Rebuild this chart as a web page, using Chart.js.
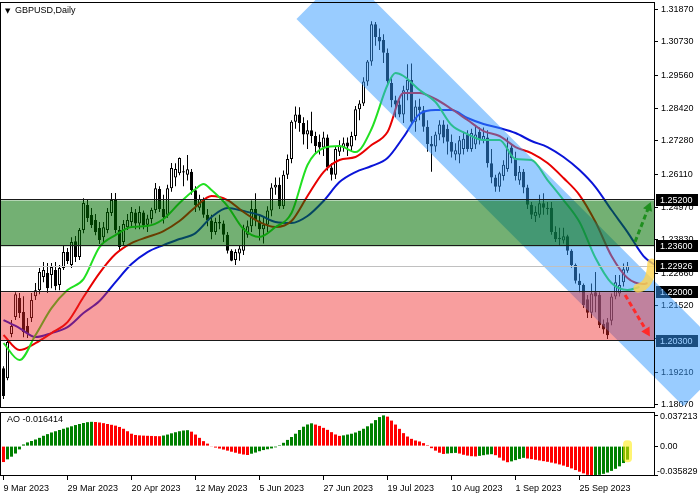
<!DOCTYPE html>
<html>
<head>
<meta charset="utf-8">
<title>GBPUSD Daily</title>
<script src="https://cdn.jsdelivr.net/npm/chart.js@4.4.1/dist/chart.umd.min.js"></script>
<style>
  html, body { margin: 0; padding: 0; background: #fff; }
  #wrap { position: relative; width: 700px; height: 500px; overflow: hidden; }
  #main { position: absolute; left: 0; top: 0; }
  #ao { position: absolute; left: 0; top: 410px; }
</style>
</head>
<body>
<div id="wrap">
  <canvas id="main" width="700" height="410"></canvas>
  <canvas id="ao" width="700" height="90"></canvas>
</div>
<script>
// x axis date labels, one every 16 bars
const dateLabels = ['9 Mar 2023', '29 Mar 2023', '20 Apr 2023', '12 May 2023', '5 Jun 2023',
  '27 Jun 2023', '19 Jul 2023', '10 Aug 2023', '1 Sep 2023', '25 Sep 2023'];
const labelBars = [0, 16, 32, 48, 64, 80, 96, 112, 128, 144];

const priceTicks = [1.31870, 1.30730, 1.29560, 1.28420, 1.27280, 1.26110, 1.24970,
  1.23830, 1.22660, 1.21520, 1.20380, 1.19210, 1.18070];
const aoTicks = [0.037213, 0, -0.035829];
const aoTickText = ['0.037213', '0.00', '-0.035829'];

// daily candles (bar 0 .. 156)
const opens = [
  1.1935,1.1900,1.2054,1.2113,1.2180,1.2131,1.2082,1.2110,1.2186,1.2207,
  1.2253,1.2267,1.2260,1.2277,1.2225,1.2284,1.2340,1.2295,1.2378,1.2323,
  1.2417,1.2504,1.2469,1.2452,1.2424,1.2392,1.2417,1.2476,1.2522,1.2417,
  1.2375,1.2427,1.2445,1.2478,1.2440,1.2478,1.2435,1.2455,1.2487,1.2560,
  1.2490,1.2470,1.2563,1.2600,1.2615,1.2618,1.2610,1.2620,1.2556,1.2495,
  1.2525,1.2470,1.2450,1.2410,1.2445,1.2440,1.2400,1.2345,1.2312,1.2335,
  1.2345,1.2400,1.2430,1.2490,1.2450,1.2420,1.2435,1.2485,1.2565,1.2575,
  1.2500,1.2610,1.2665,1.2795,1.2820,1.2790,1.2750,1.2765,1.2745,1.2725,
  1.2705,1.2740,1.2635,1.2610,1.2690,1.2705,1.2722,1.2708,1.2745,1.2838,
  1.2858,1.2935,1.3005,1.3135,1.3090,1.3080,1.3035,1.2930,1.2870,1.2855,
  1.2820,1.2905,1.2940,1.2795,1.2848,1.2835,1.2777,1.2717,1.2708,1.2750,
  1.2785,1.2770,1.2725,1.2680,1.2680,1.2700,1.2750,1.2700,1.2715,1.2760,
  1.2730,1.2740,1.2650,1.2600,1.2568,1.2605,1.2630,1.2705,1.2668,1.2590,
  1.2620,1.2565,1.2505,1.2465,1.2470,1.2510,1.2495,1.2495,1.2410,1.2385,
  1.2380,1.2395,1.2345,1.2295,1.2240,1.2225,1.2175,1.2128,1.2200,1.2190,
  1.2090,1.2095,1.2100,1.2185,1.2195,1.2235,1.2275
];
const highs = [
  1.1942,1.2036,1.2103,1.2200,1.2197,1.2186,1.2110,1.2197,1.2232,1.2284,
  1.2305,1.2302,1.2302,1.2305,1.2295,1.2365,1.2354,1.2392,1.2396,1.2424,
  1.2528,1.2522,1.2494,1.2473,1.2445,1.2445,1.2494,1.2546,1.2546,1.2431,
  1.2452,1.2473,1.2497,1.2490,1.2500,1.2485,1.2470,1.2495,1.2581,1.2570,
  1.2540,1.2575,1.2651,1.2650,1.2670,1.2643,1.2679,1.2630,1.2570,1.2540,
  1.2530,1.2490,1.2470,1.2460,1.2470,1.2450,1.2410,1.2350,1.2350,1.2365,
  1.2435,1.2450,1.2520,1.2545,1.2470,1.2465,1.2500,1.2580,1.2600,1.2600,
  1.2625,1.2680,1.2800,1.2848,1.2845,1.2810,1.2800,1.2830,1.2760,1.2750,
  1.2760,1.2750,1.2650,1.2710,1.2730,1.2740,1.2740,1.2760,1.2850,1.2870,
  1.2950,1.3010,1.3145,1.3143,1.3120,1.3100,1.3050,1.2950,1.2885,1.2870,
  1.2920,1.2995,1.2998,1.2870,1.2875,1.2850,1.2800,1.2745,1.2760,1.2800,
  1.2800,1.2785,1.2750,1.2720,1.2745,1.2760,1.2765,1.2770,1.2780,1.2775,
  1.2775,1.2765,1.2700,1.2610,1.2620,1.2660,1.2740,1.2715,1.2690,1.2640,
  1.2630,1.2575,1.2515,1.2500,1.2540,1.2545,1.2515,1.2515,1.2430,1.2425,
  1.2425,1.2400,1.2350,1.2300,1.2265,1.2230,1.2190,1.2230,1.2270,1.2200,
  1.2105,1.2110,1.2195,1.2260,1.2260,1.2300,1.2305
];
const lows = [
  1.1827,1.1893,1.2043,1.2103,1.2110,1.2043,1.2040,1.2096,1.2173,1.2193,
  1.2235,1.2197,1.2214,1.2207,1.2207,1.2277,1.2298,1.2284,1.2305,1.2312,
  1.2406,1.2445,1.2424,1.2399,1.2368,1.2375,1.2406,1.2466,1.2406,1.2347,
  1.2361,1.2417,1.2431,1.2420,1.2420,1.2420,1.2410,1.2440,1.2475,1.2480,
  1.2440,1.2460,1.2550,1.2570,1.2608,1.2570,1.2590,1.2540,1.2480,1.2485,
  1.2460,1.2430,1.2385,1.2400,1.2420,1.2375,1.2335,1.2308,1.2295,1.2310,
  1.2330,1.2390,1.2410,1.2430,1.2380,1.2370,1.2410,1.2465,1.2540,1.2490,
  1.2490,1.2595,1.2650,1.2770,1.2760,1.2715,1.2700,1.2720,1.2685,1.2680,
  1.2675,1.2625,1.2590,1.2595,1.2675,1.2690,1.2675,1.2690,1.2730,1.2800,
  1.2850,1.2920,1.2990,1.3060,1.3045,1.3000,1.2920,1.2845,1.2810,1.2810,
  1.2790,1.2870,1.2785,1.2760,1.2800,1.2760,1.2690,1.2620,1.2690,1.2730,
  1.2720,1.2680,1.2670,1.2660,1.2650,1.2680,1.2690,1.2690,1.2700,1.2715,
  1.2720,1.2635,1.2580,1.2550,1.2550,1.2590,1.2620,1.2650,1.2590,1.2575,
  1.2545,1.2490,1.2455,1.2445,1.2460,1.2470,1.2470,1.2400,1.2375,1.2365,
  1.2370,1.2330,1.2285,1.2230,1.2200,1.2145,1.2110,1.2110,1.2130,1.2075,
  1.2055,1.2037,1.2085,1.2175,1.2185,1.2220,1.2268
];
const closes = [
  1.1838,1.2026,1.2082,1.2193,1.2127,1.2061,1.2054,1.2173,1.2207,1.2270,
  1.2277,1.2214,1.2288,1.2221,1.2284,1.2340,1.2309,1.2375,1.2323,1.2417,
  1.2511,1.2459,1.2434,1.2410,1.2382,1.2427,1.2480,1.2522,1.2417,1.2358,
  1.2438,1.2452,1.2480,1.2440,1.2480,1.2433,1.2457,1.2487,1.2563,1.2490,
  1.2462,1.2563,1.2633,1.2630,1.2668,1.2622,1.2629,1.2556,1.2504,1.2525,
  1.2470,1.2450,1.2410,1.2445,1.2440,1.2400,1.2345,1.2310,1.2340,1.2352,
  1.2425,1.2430,1.2490,1.2450,1.2420,1.2435,1.2485,1.2565,1.2575,1.2500,
  1.2610,1.2665,1.2795,1.2820,1.2790,1.2750,1.2765,1.2745,1.2710,1.2705,
  1.2740,1.2635,1.2610,1.2700,1.2710,1.2720,1.2708,1.2745,1.2838,1.2858,
  1.2935,1.3005,1.3135,1.3090,1.3075,1.3035,1.2936,1.2870,1.2855,1.2820,
  1.2905,1.2940,1.2795,1.2848,1.2835,1.2777,1.2717,1.2708,1.2750,1.2785,
  1.2740,1.2725,1.2690,1.2695,1.2730,1.2735,1.2700,1.2755,1.2750,1.2730,
  1.2745,1.2650,1.2600,1.2568,1.2615,1.2645,1.2700,1.2668,1.2605,1.2620,
  1.2565,1.2505,1.2470,1.2480,1.2510,1.2495,1.2490,1.2410,1.2385,1.2390,
  1.2395,1.2345,1.2295,1.2240,1.2225,1.2155,1.2128,1.2195,1.2185,1.2085,
  1.2070,1.2050,1.2185,1.2235,1.2225,1.2280,1.22926
];

// Alligator lines (bar index, price)
const lipsBars = [0,4,8,12,16,20,24,28,32,36,40,44,48,50,52,56,60,64,68,72,76,80,84,88,92,96,98,
  100,104,108,112,116,120,124,128,132,136,140,144,148,152,156,159];
const lipsVals = [1.20224,1.19631,1.20503,1.21446,1.22074,1.22458,1.23575,1.23993,1.24273,1.24308,
  1.24552,1.25110,1.25599,1.25773,1.25564,1.25006,1.24203,1.23924,1.24273,1.24761,1.26436,1.27030,
  1.27100,1.26890,1.27693,1.29228,1.29647,1.29543,1.29054,1.28635,1.27832,1.27518,1.27309,1.27309,
  1.26646,1.26611,1.25913,1.25215,1.24447,1.23191,1.22318,1.22074,1.22179];
const teethBars = [0,4,8,12,16,20,24,28,32,36,40,44,48,52,56,60,64,68,72,76,80,84,88,92,96,
  100,104,108,112,116,120,124,128,132,136,140,144,148,152,156,160,161];
const teethVals = [1.20503,1.19980,1.20224,1.20573,1.20957,1.21830,1.22667,1.23330,1.23714,1.23924,
  1.24133,1.24482,1.24971,1.25355,1.25215,1.24796,1.24447,1.24273,1.24482,1.25355,
  1.26192,1.26611,1.26716,1.27134,1.27588,1.28949,1.28949,1.28740,1.28391,1.28007,
  1.27623,1.27449,1.27065,1.26855,1.26506,1.25983,1.25389,1.24447,1.23261,1.22493,
  1.22283,1.22318];
const jawBars = [0,4,8,12,16,20,24,28,32,36,40,44,48,52,56,60,64,68,72,76,80,84,88,92,96,
  100,104,108,112,116,120,124,128,132,136,140,144,148,152,156,160,164];
const jawVals = [1.21027,1.20748,1.20434,1.20573,1.20783,1.21271,1.21690,1.22353,1.22981,1.23400,
  1.23644,1.23854,1.24063,1.24622,1.24936,1.24831,1.24691,1.24447,1.24412,1.24657,
  1.25180,1.25843,1.26192,1.26402,1.26681,1.27414,1.28216,1.28356,1.28356,1.28077,
  1.27867,1.27728,1.27553,1.27274,1.27065,1.26716,1.26262,1.25669,1.24866,1.24098,
  1.23261,1.22842];

// Awesome Oscillator
const aoValues = [
  -0.0193,-0.0160,-0.0128,-0.0090,-0.0040,0.0020,0.0045,0.0062,0.0080,0.0100,
  0.0125,0.0145,0.0165,0.0180,0.0195,0.0210,0.0225,0.0240,0.0255,0.0268,
  0.0280,0.0290,0.0294,0.0292,0.0286,0.0278,0.0268,0.0258,0.0248,0.0232,
  0.0210,0.0180,0.0150,0.0135,0.0130,0.0127,0.0125,0.0123,0.0121,0.0120,
  0.0128,0.0140,0.0155,0.0168,0.0180,0.0189,0.0193,0.0175,0.0140,0.0100,
  0.0060,0.0030,-0.0008,-0.0018,-0.0030,-0.0042,-0.0055,-0.0068,-0.0080,-0.0092,
  -0.0102,-0.0108,-0.0092,-0.0078,-0.0062,-0.0048,-0.0038,-0.0028,-0.0015,0.0012,
  0.0040,0.0075,0.0110,0.0150,0.0195,0.0235,0.0262,0.0276,0.0261,0.0245,
  0.0221,0.0197,0.0169,0.0141,0.0124,0.0130,0.0140,0.0150,0.0165,0.0185,
  0.0210,0.0240,0.0275,0.0315,0.0352,0.037213,0.0357,0.0309,0.0261,0.0209,
  0.0157,0.0116,0.0088,0.0068,0.0056,0.0036,0.0012,-0.0025,-0.0055,-0.0080,
  -0.0095,-0.0090,-0.0085,-0.0082,-0.0090,-0.0105,-0.0115,-0.0122,-0.0125,-0.0118,
  -0.0110,-0.0102,-0.0098,-0.0110,-0.0140,-0.0175,-0.0195,-0.0185,-0.0170,-0.0155,
  -0.0142,-0.0150,-0.0158,-0.0166,-0.0174,-0.0182,-0.0190,-0.0200,-0.0210,-0.0222,
  -0.0236,-0.0252,-0.0270,-0.0290,-0.0310,-0.0330,-0.0348,-0.035829,-0.0355,-0.0348,
  -0.0336,-0.0320,-0.0300,-0.0275,-0.0245,-0.0205,-0.016414
];

// drawn objects: levels, channel, arrows
const greenBand = [1.2360, 1.2520];
const redBand = [1.2030, 1.2200];
const priceBoxes = [1.25200, 1.23600, 1.22926, 1.22000, 1.20300];
const lastPrice = 1.22926;
const channelBars = [100, 160];
const channelTop = [1.3115, 1.2277];
const channelWidth = 0.0335;
const channelSpan = [73.25, 170];
const upArrow = [[157.9, 1.2376], [161.8, 1.2515]];
const downArrow = [[155.4, 1.2190], [161.6, 1.2045]];
const yellowCurve = [[158.6, 1.2214], [161.8, 1.2222], [162.1, 1.2302]];

const X_MIN = -0.875, X_MAX = 162.625;
const FONT = { family: '"Liberation Sans", Arial, sans-serif', size: 9 };
const FONT_CSS = '9px "Liberation Sans", Arial, sans-serif';
const CHANNEL_FILL = 'rgba(51,153,255,0.5)';
const GREEN_FILL = 'rgba(0,112,0,0.55)';
const RED_FILL = 'rgba(240,40,40,0.45)';

const pts = (bars, vals) => bars.map((b, i) => ({ x: b, y: vals[i] }));

function channelPath(ctx, x, y) {
  const x1 = x.getPixelForValue(channelBars[0]), y1 = y.getPixelForValue(channelTop[0]);
  const x2 = x.getPixelForValue(channelBars[1]), y2 = y.getPixelForValue(channelTop[1]);
  const len = Math.hypot(x2 - x1, y2 - y1);
  const dx = (x2 - x1) / len, dy = (y2 - y1) / len;
  const slope = (y2 - y1) / (x2 - x1);
  const off = y.getPixelForValue(channelTop[0] - channelWidth) - y1;
  const lowerAt = xp => y1 + slope * (xp - x1) + off;
  const xa = x.getPixelForValue(channelSpan[0]), xb = x.getPixelForValue(channelSpan[1]);
  const t = off * dx, nx = dy * t, ny = -dx * t;
  const ya = lowerAt(xa), yb = lowerAt(xb);
  ctx.beginPath();
  ctx.moveTo(xa, ya);
  ctx.lineTo(xa + nx, ya + ny);
  ctx.lineTo(xb + nx, yb + ny);
  ctx.lineTo(xb, yb);
  ctx.closePath();
}

function dashedArrow(ctx, x, y, seg, color) {
  const x0 = x.getPixelForValue(seg[0][0]), y0 = y.getPixelForValue(seg[0][1]);
  const x1 = x.getPixelForValue(seg[1][0]), y1 = y.getPixelForValue(seg[1][1]);
  const ang = Math.atan2(y1 - y0, x1 - x0);
  const head = 10;
  ctx.save();
  ctx.strokeStyle = color;
  ctx.fillStyle = color;
  ctx.lineWidth = 3;
  ctx.setLineDash([5, 3]);
  ctx.beginPath();
  ctx.moveTo(x0, y0);
  ctx.lineTo(x1 - Math.cos(ang) * head * 0.8, y1 - Math.sin(ang) * head * 0.8);
  ctx.stroke();
  ctx.setLineDash([]);
  ctx.beginPath();
  ctx.moveTo(x1, y1);
  ctx.lineTo(x1 - head * Math.cos(ang - 0.5), y1 - head * Math.sin(ang - 0.5));
  ctx.lineTo(x1 - head * Math.cos(ang + 0.5), y1 - head * Math.sin(ang + 0.5));
  ctx.closePath();
  ctx.fill();
  ctx.restore();
}

function hline(ctx, a, py) {
  ctx.beginPath();
  ctx.moveTo(a.left, py);
  ctx.lineTo(a.right, py);
  ctx.stroke();
}

const mainOverlay = {
  id: 'mainOverlay',
  afterDatasetsDraw(chart) {
    const { ctx, chartArea: a, scales: { x, y } } = chart;

    // regression channel, drawn over the price axis too
    ctx.save();
    channelPath(ctx, x, y);
    ctx.fillStyle = CHANNEL_FILL;
    ctx.fill();
    ctx.restore();

    // support / resistance zones
    ctx.save();
    ctx.beginPath();
    ctx.rect(a.left, a.top, a.right - a.left, a.bottom - a.top);
    ctx.clip();
    [[greenBand, GREEN_FILL], [redBand, RED_FILL]].forEach(([band, fill]) => {
      const top = y.getPixelForValue(band[1]);
      const bot = y.getPixelForValue(band[0]);
      ctx.fillStyle = fill;
      ctx.fillRect(a.left, top, a.right - a.left, bot - top);
    });
    ctx.lineWidth = 1;
    ctx.strokeStyle = '#1a1a1a';
    [...greenBand, ...redBand].forEach(p => hline(ctx, a, Math.round(y.getPixelForValue(p)) - 0.5));
    ctx.strokeStyle = '#c0c0c0';
    hline(ctx, a, Math.round(y.getPixelForValue(lastPrice)) + 0.5);
    ctx.restore();

    // forecast arrows
    const [p0, p1, p2] = yellowCurve.map(([b, v]) => [x.getPixelForValue(b), y.getPixelForValue(v)]);
    ctx.save();
    ctx.strokeStyle = 'rgba(255,212,80,0.8)';
    ctx.lineWidth = 9;
    ctx.lineCap = 'round';
    ctx.beginPath();
    ctx.moveTo(p0[0], p0[1]);
    ctx.quadraticCurveTo(p1[0], p1[1], p2[0], p2[1]);
    ctx.stroke();
    ctx.restore();
    dashedArrow(ctx, x, y, upArrow, '#1f8f1f');
    dashedArrow(ctx, x, y, downArrow, '#ff2a2a');
  },
  afterDraw(chart) {
    const { ctx, chartArea: a, scales: { x, y } } = chart;
    ctx.save();
    ctx.strokeStyle = '#000';
    ctx.lineWidth = 1;
    ctx.strokeRect(a.left + 0.5, a.top + 0.5, a.right - a.left, a.bottom - a.top - 1);

    // price labels on the axis
    ctx.font = FONT_CSS;
    ctx.textBaseline = 'middle';
    priceBoxes.forEach(p => {
      const py = Math.round(y.getPixelForValue(p));
      const bx = a.right + 2, by = py - 6, bw = 42, bh = 12;
      ctx.fillStyle = '#000';
      ctx.fillRect(bx, by, bw, bh);
      ctx.fillStyle = '#fff';
      ctx.fillText(p.toFixed(5), bx + 4, py + 0.5);
      ctx.save();
      ctx.beginPath();
      ctx.rect(bx, by, bw, bh);
      ctx.clip();
      channelPath(ctx, x, y);
      ctx.fillStyle = CHANNEL_FILL;
      ctx.fill();
      ctx.restore();
    });

    // symbol title
    ctx.fillStyle = '#000';
    ctx.font = '7px "DejaVu Sans", sans-serif';
    ctx.fillText('▼', 5, 11);
    ctx.font = FONT_CSS;
    ctx.fillText('GBPUSD,Daily', 15, 11);
    ctx.restore();
  }
};

new Chart(document.getElementById('main'), {
  type: 'bar',
  data: {
    datasets: [
      { type: 'line', label: 'Lips', data: pts(lipsBars, lipsVals), borderColor: '#22e022', borderWidth: 2,
        pointRadius: 0, cubicInterpolationMode: 'monotone', order: 0 },
      { type: 'line', label: 'Teeth', data: pts(teethBars, teethVals), borderColor: '#e80000', borderWidth: 2,
        pointRadius: 0, cubicInterpolationMode: 'monotone', order: 0 },
      { type: 'line', label: 'Jaw', data: pts(jawBars, jawVals), borderColor: '#0a14d8', borderWidth: 2,
        pointRadius: 0, cubicInterpolationMode: 'monotone', order: 0 },
      { label: 'body', data: closes.map((c, i) => ({ x: i, y: [opens[i], c] })),
        backgroundColor: closes.map((c, i) => c >= opens[i] ? '#ffffff' : '#000000'),
        borderColor: '#000', borderWidth: 1, borderSkipped: false, barThickness: 3,
        inflateAmount: 0, grouped: false, order: 1 },
      { label: 'wick', data: highs.map((h, i) => ({ x: i, y: [lows[i], h] })),
        backgroundColor: '#000', barThickness: 1, inflateAmount: 0, grouped: false, order: 2 }
    ]
  },
  options: {
    responsive: false,
    animation: false,
    devicePixelRatio: 1,
    layout: { padding: { top: 2, bottom: 2, left: 0, right: 0 } },
    plugins: { legend: { display: false }, tooltip: { enabled: false } },
    scales: {
      x: { type: 'linear', min: X_MIN, max: X_MAX, offset: false, display: false },
      y: {
        position: 'right', min: 1.17959, max: 1.32125,
        afterBuildTicks: s => { s.ticks = priceTicks.map(v => ({ value: v })); },
        afterFit: s => { s.width = 46; s.paddingTop = 0; s.paddingBottom = 0; },
        ticks: { font: FONT, color: '#000', padding: 3, callback: v => v.toFixed(5) },
        grid: { drawOnChartArea: false, tickLength: 4, color: '#000' },
        border: { display: false }
      }
    }
  },
  plugins: [mainOverlay]
});

const aoOverlay = {
  id: 'aoOverlay',
  afterDatasetsDraw(chart) {
    const { ctx, chartArea: a, scales: { x, y } } = chart;
    const last = aoValues.length - 1;
    const cx = x.getPixelForValue(last);
    const top = y.getPixelForValue(0.007);
    const bot = y.getPixelForValue(aoValues[last] - 0.003);
    ctx.save();
    ctx.fillStyle = 'rgba(255,235,0,0.55)';
    ctx.beginPath();
    ctx.roundRect(cx - 4.5, top, 9, bot - top, 4);
    ctx.fill();
    ctx.strokeStyle = '#000';
    ctx.lineWidth = 1;
    ctx.strokeRect(a.left + 0.5, a.top + 0.5, a.right - a.left, a.bottom - a.top - 1);
    ctx.fillStyle = '#000';
    ctx.font = FONT_CSS;
    ctx.textBaseline = 'middle';
    ctx.fillText('AO ' + aoValues[last].toFixed(6), 7, a.top + 8);
    // scale labels: kept inside the panel like the terminal does
    const labelY = [a.top + 5, y.getPixelForValue(0), a.bottom - 4];
    const labelX = [a.right + 6, a.right + 6, a.right + 3];
    aoTickText.forEach((t, i) => ctx.fillText(t, labelX[i], labelY[i]));
    ctx.restore();
  }
};

new Chart(document.getElementById('ao'), {
  type: 'bar',
  data: {
    datasets: [{
      data: aoValues.map((v, i) => ({ x: i, y: v })),
      backgroundColor: aoValues.map((v, i) => i > 0 && v > aoValues[i - 1] ? '#008000' : '#ff0000'),
      barThickness: 3, inflateAmount: 0, grouped: false
    }]
  },
  options: {
    responsive: false,
    animation: false,
    devicePixelRatio: 1,
    layout: { padding: { top: 2, bottom: 0, left: 0, right: 0 } },
    plugins: { legend: { display: false }, tooltip: { enabled: false } },
    scales: {
      x: {
        type: 'linear', min: X_MIN, max: X_MAX, offset: false,
        afterBuildTicks: s => { s.ticks = labelBars.map(v => ({ value: v })); },
        afterFit: s => { s.height = 24; s.paddingLeft = 0; s.paddingRight = 0; },
        ticks: { autoSkip: false, maxRotation: 0, align: 'start', font: FONT, color: '#000', padding: 3,
          callback: (v, i) => dateLabels[i] },
        grid: { drawOnChartArea: false, tickLength: 4, color: '#000', offset: false },
        border: { display: false }
      },
      y: {
        position: 'right', min: -0.0362, max: 0.0413,
        afterBuildTicks: s => { s.ticks = aoTicks.map(v => ({ value: v })); },
        afterFit: s => { s.width = 46; s.paddingTop = 0; s.paddingBottom = 0; },
        ticks: { display: false },
        grid: { drawOnChartArea: false, tickLength: 4, color: '#000' },
        border: { display: false }
      }
    }
  },
  plugins: [aoOverlay]
});
</script>
</body>
</html>
